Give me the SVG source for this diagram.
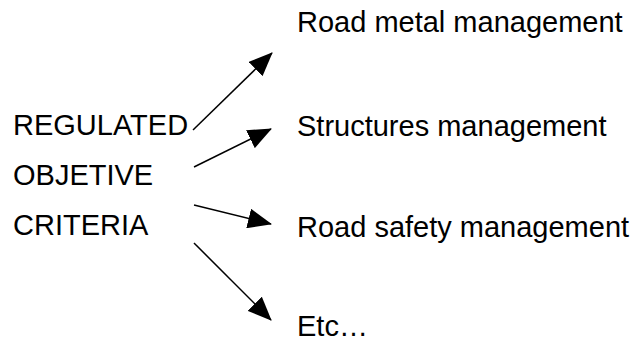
<svg xmlns="http://www.w3.org/2000/svg" width="639" height="344" viewBox="0 0 639 344">
  <style>
    text { font-family: "Liberation Sans", Arial, sans-serif; font-size: 29px; fill: #000; }
    .link { stroke: #000; stroke-width: 1.5; fill: none; marker-end: url(#head); }
  </style>
  <defs>
    <marker id="head" markerUnits="userSpaceOnUse" markerWidth="24" markerHeight="20" refX="23" refY="10" orient="auto">
      <path d="M0,0 L24,10 L0,20 Z" fill="#000"/>
    </marker>
  </defs>
  <rect width="639" height="344" fill="#fff"/>

  <!-- source criteria -->
  <g id="criteria">
    <text x="13" y="135">REGULATED</text>
    <text x="13" y="185">OBJETIVE</text>
    <text x="13" y="235">CRITERIA</text>
  </g>

  <!-- outcomes -->
  <g id="road-metal"><text x="297" y="32">Road metal management</text></g>
  <g id="structures"><text x="297" y="136">Structures management</text></g>
  <g id="road-safety"><text x="297" y="237">Road safety management</text></g>
  <g id="etc"><text x="297" y="336">Etc…</text></g>

  <!-- connectors -->
  <g id="connectors">
    <line class="link" x1="193" y1="130" x2="272" y2="53"/>
    <line class="link" x1="194" y1="167" x2="271" y2="129"/>
    <line class="link" x1="194" y1="205" x2="271" y2="224"/>
    <line class="link" x1="194" y1="243" x2="271" y2="320"/>
  </g>
</svg>
